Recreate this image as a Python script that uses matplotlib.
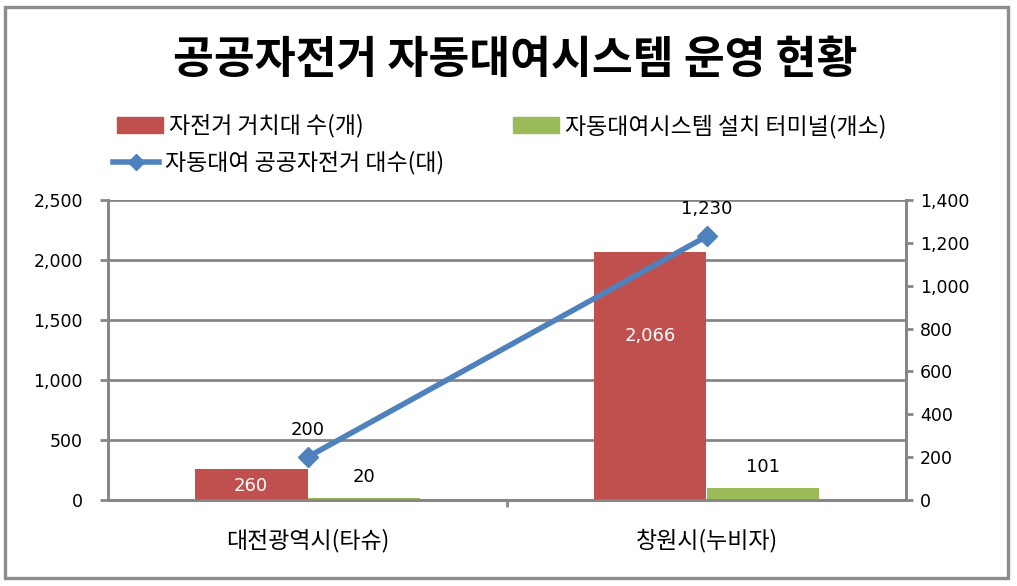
import matplotlib
matplotlib.use("Agg")
import matplotlib.pyplot as plt
from matplotlib.patches import Rectangle, Patch
from matplotlib.lines import Line2D
from matplotlib.ticker import FuncFormatter, MultipleLocator, FixedLocator

plt.rcParams['font.family'] = ['Noto Sans CJK KR', 'DejaVu Sans']

title = "공공자전거 자동대여시스템 운영 현황"
categories = ["대전광역시(타슈)", "창원시(누비자)"]
racks = [260, 2066]
terminals = [20, 101]
bikes = [200, 1230]
series_names = ["자전거 거치대 수(개)", "자동대여시스템 설치 터미널(개소)", "자동대여 공공자전거 대수(대)"]

RED = "#C0504D"
GREEN = "#9BBB59"
BLUE = "#4F81BD"
GRAY = "#868686"

W, H = 1017, 586
fig = plt.figure(figsize=(W / 100, H / 100), dpi=100)

def px2fig(x, y):
    return x / W, 1 - y / H

# outer border
fig.patches.append(Rectangle((5 / W, 1 - 578 / H), 1003 / W, 571 / H, transform=fig.transFigure,
                             fill=False, edgecolor="#8C8C8C", linewidth=2.4))

left, right, top, bottom = 108, 906, 200, 500
ax = fig.add_axes([left / W, 1 - bottom / H, (right - left) / W, (bottom - top) / H])
ax2 = ax.twinx()

x = list(range(len(categories)))
bw = 0.283
ax.bar([i - bw / 2 for i in x], racks, width=bw, color=RED, zorder=3)
ax.bar([i + bw / 2 for i in x], terminals, width=bw, color=GREEN, zorder=3)
ax2.plot(x, bikes, color=BLUE, linewidth=4, marker='D', markersize=10, zorder=4)

ax.set_xlim(-0.5, 1.5)
ax.set_ylim(0, 2500)
ax2.set_ylim(0, 1400)
ax.yaxis.set_major_locator(MultipleLocator(500))
ax2.yaxis.set_major_locator(MultipleLocator(200))
fmt = FuncFormatter(lambda v, p: f"{int(v):,}")
ax.yaxis.set_major_formatter(fmt)
ax2.yaxis.set_major_formatter(fmt)

ax.set_xticks(x)
ax.set_xticklabels(categories, fontsize=16.5)
ax.xaxis.set_minor_locator(FixedLocator([0.5]))
ax.tick_params(axis='x', which='major', length=0, pad=21)
ax.tick_params(axis='x', which='minor', length=5, width=2, color=GRAY)
ax.tick_params(axis='y', length=6, width=2, color=GRAY, pad=12)
ax2.tick_params(axis='y', length=5, width=2, color=GRAY, pad=5)
for lab in ax.get_yticklabels() + ax2.get_yticklabels():
    lab.set_fontfamily('DejaVu Sans')
    lab.set_fontsize(12.5)

ax.grid(axis='y', color=GRAY, linewidth=2, zorder=0)
ax.set_axisbelow(True)
for a in (ax, ax2):
    a.spines['top'].set_visible(False)
    for s in ['left', 'right', 'bottom']:
        a.spines[s].set_color(GRAY)
        a.spines[s].set_linewidth(2)
ax.patch.set_visible(False)
ax2.set_zorder(ax.get_zorder() + 1)

# data labels
lab_kw = dict(fontfamily='DejaVu Sans', fontsize=13, ha='center', va='center')
rack_label_y = [117, 1367]
for i, v in enumerate(racks):
    ax.text(i - bw / 2, rack_label_y[i], f"{v:,}", color='white', zorder=5, **lab_kw)
for i, v in enumerate(terminals):
    ax.annotate(f"{v:,}", (i + bw / 2, v), xytext=(0, 21), textcoords='offset pixels', color='black', **lab_kw)
for i, v in enumerate(bikes):
    ax2.annotate(f"{v:,}", (i, v), xytext=(0, 27), textcoords='offset pixels', color='black', **lab_kw)

# title
fig.text(515 / W, 1 - 60 / H, title, ha='center', va='center', fontsize=32, fontweight='bold')

# legends
leg_kw = dict(frameon=False, fontsize=16.5, handlelength=2.0, handletextpad=0.25, borderpad=0, borderaxespad=0)
def put_legend(handle, label, xp, yp):
    fx, fy = px2fig(xp, yp)
    return fig.legend([handle], [label], loc='center left', bbox_to_anchor=(fx, fy),
                      bbox_transform=fig.transFigure, **leg_kw)

put_legend(Patch(color=RED), series_names[0], 117, 126)
put_legend(Patch(color=GREEN), series_names[1], 513, 126)
put_legend(Line2D([], [], color=BLUE, linewidth=4, marker='D', markersize=8), series_names[2], 113, 163)

fig.savefig("out.png", dpi=100)
